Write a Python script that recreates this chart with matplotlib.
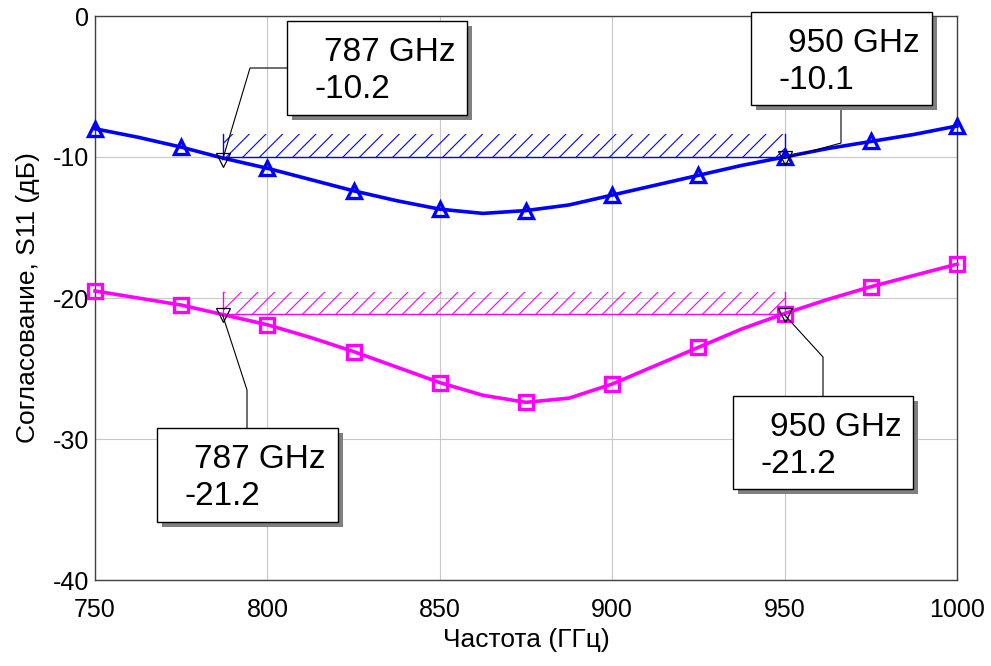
import matplotlib
matplotlib.use("Agg")
import matplotlib.pyplot as plt
from matplotlib.patches import Rectangle
from matplotlib.lines import Line2D
from matplotlib.transforms import IdentityTransform

plt.rcParams["font.family"] = ["Liberation Sans", "DejaVu Sans"]
plt.rcParams["hatch.linewidth"] = 0.8
plt.rcParams["axes.unicode_minus"] = False

# curves, 12.5 GHz step (markers every 25 GHz)
freq = [750, 762.5, 775, 787.5, 800, 812.5, 825, 837.5, 850, 862.5, 875,
        887.5, 900, 912.5, 925, 937.5, 950, 962.5, 975, 987.5, 1000]
s11_blue = [-8.0, -8.6, -9.3, -10.1, -10.8, -11.6, -12.4, -13.1, -13.7, -14.0, -13.8,
            -13.4, -12.7, -12.0, -11.3, -10.6, -10.0, -9.4, -8.9, -8.4, -7.8]
s11_mag = [-19.5, -20.0, -20.5, -21.2, -21.9, -22.8, -23.8, -24.9, -26.0, -26.9, -27.4,
           -27.1, -26.1, -24.8, -23.5, -22.2, -21.1, -20.1, -19.2, -18.4, -17.6]

# marker readouts
mark_f = [787, 950]
mark_blue = [-10.2, -10.1]
mark_mag = [-21.2, -21.2]

# hatched spec bands (low, high)
band_f = [787, 950]
band_blue = (-10.0, -8.4)
band_mag = (-21.1, -19.6)

BLUE = "#0000ff"
MAG = "#ff00ff"
W, H = 991, 666

fig = plt.figure(figsize=(W / 100, H / 100), dpi=100)
ax = fig.add_axes([95 / W, (H - 580) / H, 862 / W, 564 / H])

ax.set_xlim(750, 1000)
ax.set_ylim(-40, 0)
ax.set_xticks([750, 800, 850, 900, 950, 1000])
ax.set_yticks([-40, -30, -20, -10, 0])
ax.tick_params(length=0, labelsize=18)
ax.tick_params(axis="x", pad=13)
ax.tick_params(axis="y", pad=4)
ax.grid(True, color="#c8c8c8", lw=0.8)
ax.set_axisbelow(True)
for sp in ax.spines.values():
    sp.set_color("#404040")
    sp.set_linewidth(1.0)

ax.set_xlabel("Частота (ГГц)", fontsize=19)
ax.set_ylabel("Согласование, S11 (дБ)", fontsize=19)
ax.xaxis.set_label_coords(0.5, -0.085)
ax.yaxis.set_label_coords(-0.064, 0.5)

# hatched bands
for band, c in [(band_blue, BLUE), (band_mag, MAG)]:
    ax.fill_between(band_f, band[0], band[1], facecolor="none", edgecolor=c,
                    hatch="//", linewidth=0, zorder=2)
    ax.plot([band_f[0], band_f[0], band_f[1], band_f[1]],
            [band[1], band[0], band[0], band[1]], color=c, lw=1.0, zorder=2)

ax.plot(freq, s11_blue, color=BLUE, lw=2.6, marker="^", markevery=2, ms=10,
        mfc="none", mew=2.4, zorder=3, clip_on=False)
ax.plot(freq, s11_mag, color=MAG, lw=2.6, marker="s", markevery=2, ms=10,
        mfc="none", mew=2.4, zorder=3, clip_on=False)

ax.plot(mark_f, mark_blue, ls="none", marker="v", ms=10, mfc="none", mec="black",
        mew=0.9, zorder=4)
ax.plot(mark_f, mark_mag, ls="none", marker="v", ms=10, mfc="none", mec="black",
        mew=0.9, zorder=4)


def px(x, y):
    # image pixel (origin top-left) -> display coords
    return x, H - y


def callout(left, top, w, h, f, val, point, elbow):
    ident = IdentityTransform()
    # leader line: marker -> elbow -> box
    mx, my = ax.transData.transform(point)
    ex, ey = px(*elbow[0])
    bx, by = px(*elbow[1])
    fig.add_artist(Line2D([mx, ex, bx], [my, ey, by], color="black", lw=0.8,
                          transform=ident, zorder=5))
    x0, y0 = px(left, top + h)
    fig.add_artist(Rectangle((x0 + 5, y0 - 5), w, h, facecolor="#808080",
                             edgecolor="none", transform=ident, zorder=6))
    fig.add_artist(Rectangle((x0, y0), w, h, facecolor="white", edgecolor="black",
                             lw=1.0, transform=ident, zorder=7))
    tx, ty = px(left + 37, top + 40)
    fig.text(tx, ty, "%d GHz" % f, fontsize=24, va="baseline", ha="left",
             transform=ident, zorder=8)
    tx, ty = px(left + 27, top + 77)
    fig.text(tx, ty, "%.1f" % val, fontsize=24, va="baseline", ha="left",
             transform=ident, zorder=8)


callout(287, 21, 180, 94, mark_f[0], mark_blue[0], (mark_f[0], mark_blue[0]),
        [(250, 68), (287, 68)])
callout(751, 12, 181, 93, mark_f[1], mark_blue[1], (mark_f[1], mark_blue[1]),
        [(841, 143), (841, 105)])
callout(157, 428, 181, 94, mark_f[0], mark_mag[0], (mark_f[0], mark_mag[0]),
        [(247, 390), (247, 428)])
callout(733, 396, 180, 93, mark_f[1], mark_mag[1], (mark_f[1], mark_mag[1]),
        [(823, 357), (823, 396)])

fig.savefig("out.png", dpi=100)
